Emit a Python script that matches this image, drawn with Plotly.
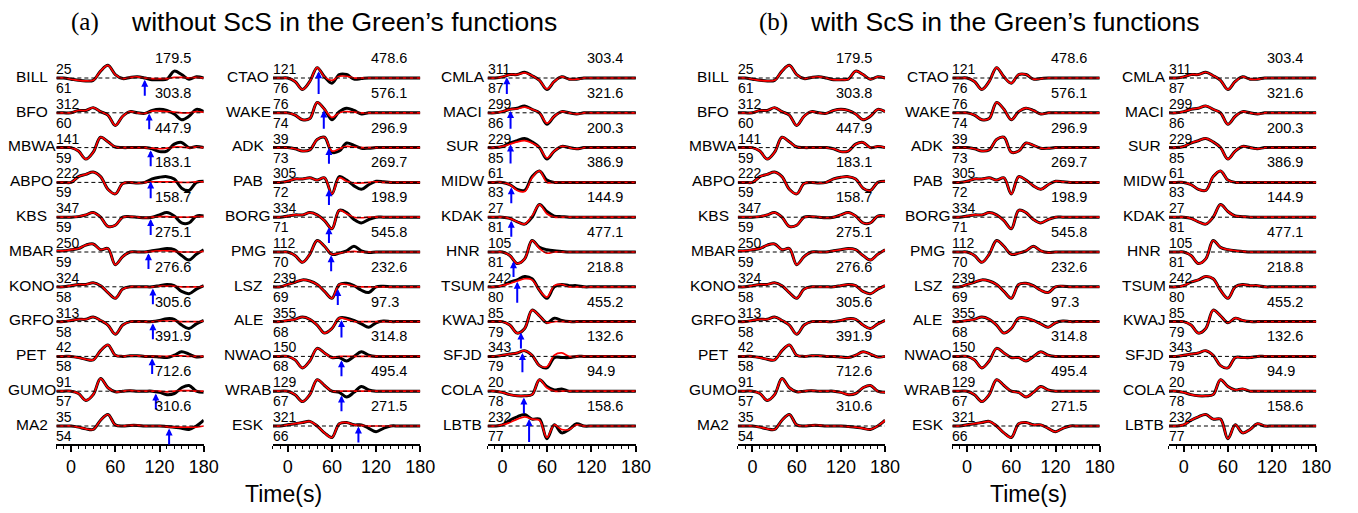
import numpy as np
import plotly.graph_objects as go

# ---------------- data ----------------
T = [-20, -10, 0, 10, 20, 30, 40, 50, 60, 70, 80, 90, 100, 110, 120, 130, 140, 150, 160, 170, 180]

stations_c1 = ["BILL", "BFO", "MBWA", "ABPO", "KBS", "MBAR", "KONO", "GRFO", "PET", "GUMO", "MA2"]
az_c1 = [25, 312, 141, 222, 347, 250, 324, 313, 42, 91, 35]
dist_c1 = [61, 60, 59, 59, 59, 59, 58, 58, 58, 57, 54]
amp_c1 = ["179.5", "303.8", "447.9", "183.1", "158.7", "275.1", "276.6", "305.6", "391.9", "712.6", "310.6"]
scs_c1 = [100, 106, 108, 108, 108, 105, 111, 111, 110, 115, 133]
obs_c1 = [
    [0, 0, -1, -2, -2.5, -2, 6, 11, 3, -0.5, 0.5, 1, 0, -1.5, -1.5, -1, 6, 3, -1, 1, 0],
    [0, 0, 0, 2, 2, 4.5, 1, -2, -11, -3, 1, 0, -0.5, 2, 3, 2, -1, -6, -3, 3, 1],
    [0, 0, 0, -3, -10, -4, 9, 5, 0.5, 0, 0, 0, 0, -1, -3.5, -3, 3, 4.5, 0, 1, 0],
    [0, 0, 0, 5, 7, 9, 5, -6, -10, -1, 0, -0.5, 0, 3, 4.5, 5, 3, -5, -7, 0, 1],
    [0, 0, 0, 0.5, 2, 4, 0, -8, -7, 0, 0.5, 0, -0.5, 0, 2, 4, 1, -5, -5, 1, 1],
    [1, 1, 2, 3, 6, 7, 2, 3, -11, -4, 0, 0, 0, 1, 2, 3, 2, -3, -7, -2, 2],
    [0, 0, 1, 2, 2, 3.5, 1, -5, -10, -2, 0, 0, 0, 0, 1, 2, 1, -4, -6, -2, 1],
    [0, 0, 1, 2, 2, 4, 1, -3, -11, -3, 0, 0, 0, 0, 1, 2.5, 2, -3, -6, -2, 1],
    [0, 0, 0, -1, -2.5, -3, 5, 10, 1, 0, 0.5, 0.5, 0, 0, -0.5, -1, 1, 4, 2, -0.5, 0],
    [0, 0, 0, -2, -8, -3, 11, 3, -0.5, 0, 0.5, 0, 0, 0, -1, -3, -2, 3, 5, 0, -1],
    [0, 0, 0, -1, -2.5, -3, 5, 10, 1, 0, 0.5, 0.5, 0, 0, 0, -0.5, -1, -2, -3, 0, 5],
]
syn_a_c1 = [
    [0, 0, -1, -2, -2.5, -2, 6, 11, 3, -0.5, 0.5, 1, 0, -0.5, -0.5, -0.5, 0.5, 0.5, 0, 0.5, 0],
    [0, 0, 0, 2, 2, 4.5, 1, -2, -11, -3, 1, 0, -0.5, 1.5, 1.5, 1, 0.5, 0, 0, 1, 0.5],
    [0, 0, 0, -3, -10, -4, 9, 5, 0.5, 0, 0, 0, 0, -0.5, -1, -0.5, 0.5, 0.5, 0, 0.5, 0],
    [0, 0, 0, 5, 7, 9, 5, -6, -10, -1, 0, -0.5, 0, 0.5, 0.5, 0.5, 0.5, 0, 0, 0.5, 0.5],
    [0, 0, 0, 0.5, 2, 4, 0, -8, -7, 0, 0.5, 0, -0.5, 0, 0.5, 0.5, 0, 0, 0, 0.5, 0.5],
    [1, 1, 2, 3, 6, 7, 2, 3, -11, -4, 0, 0, 0, 0.5, 1, 1, 0.5, 0, 0, 0, 0.5],
    [0, 0, 1, 2, 2, 3.5, 1, -5, -10, -2, 0, 0, 0, 0, 0.5, 0.5, 0.5, 0, 0, 0, 0.5],
    [0, 0, 1, 2, 2, 4, 1, -3, -11, -3, 0, 0, 0, 0, 0.5, 0.5, 0.5, 0, 0, 0, 0.5],
    [0, 0, 0, -1, -2.5, -3, 5, 10, 1, 0, 0.5, 0.5, 0, 0, 0, 0, 0.5, 0.5, 0, 0, 0],
    [0, 0, 0, -2, -8, -3, 11, 3, -0.5, 0, 0.5, 0, 0, 0, 0, -0.5, 0, 0.5, 0.5, 0, 0],
    [0, 0, 0, -1, -2.5, -3, 5, 10, 1, 0, 0.5, 0.5, 0, 0, 0, -0.5, -1, -1, -1, -1, 0],
]

stations_c2 = ["CTAO", "WAKE", "ADK", "PAB", "BORG", "PMG", "LSZ", "ALE", "NWAO", "WRAB", "ESK"]
az_c2 = [121, 76, 39, 305, 334, 112, 239, 355, 150, 129, 321]
dist_c2 = [76, 74, 73, 72, 71, 70, 69, 68, 68, 67, 66]
amp_c2 = ["478.6", "576.1", "296.9", "269.7", "198.9", "545.8", "232.6", "97.3", "314.8", "495.4", "271.5"]
scs_c2 = [42, 49, 56, 56, 56, 59, 68, 73, 73, 73, 96]
obs_c2 = [
    [0, 0, 0, -3, -10, -3, 9, 1, -4.5, 3, 3, -1, -0.5, 0, 0, 0, 0, 0, 0, 0, 0],
    [0, 0, 0, -2, -6, -5, 9, 3, -6, 1, 4, 2, -1, 0, 0, 0, 0, 0, 0, 0, 0],
    [0, 0, 0, -1, -3, -2, 7, 9, -4, -3, 4, 2, -0.5, -0.5, 0, 0, 0, 0, 0, 0, 0],
    [0, 0, 1, 3, 3, 4, 2, 4, -10, 5, 2, -3, -6, -2, 1, 0.5, 0, 0, 0, 0, 0],
    [0, 0, 1, 2, 2, 4, 2, -3, -10, 6, 4, -2, -5, -2, 0, 0, 0, 0, 0, 0, 0],
    [0, 0, 0, -3, -9, -2, 10, 5, -2, -1, 1, 5, 1, -0.5, 0, 0, 0, 0, 0, 0, 0],
    [0, 0, 2, 4, 6, 5, 2, -4, -10, 2, 3, 1, -3, -5, 0, 0.5, 0, 0, 0, 0, 0],
    [0, 0, 1, 2, 4, 2, -3, -10, -6, 3, 3, 1, -2, -5, -1, 0.5, 0, 0, 0, 0, 0],
    [0, 0, 0, -3, -10, -4, 7, 3, -1, -1, -4, 0, 4, 1, 0, 0, 0, 0, 0, 0, 0],
    [0, 0, 0, -3, -9, -3, 10, 5, 0, -1, -5, -1, 4, 1, 0, 0, 0, 0, 0, 0, 0],
    [0, 0, 1, 2, 3, 4, 0, -6, -10, 2, 3, 1, 1, -2, -5, -2, 0, 0, 0, 0, 0],
]
syn_a_c2 = [
    [0, 0, 0, -3, -10, -3, 9, 1, -2, 1.5, 1.5, 0, 0, 0, 0, 0, 0, 0, 0, 0, 0],
    [0, 0, 0, -2, -6, -5, 9, 3, -4, 0, 1, 0.5, 0, 0, 0, 0, 0, 0, 0, 0, 0],
    [0, 0, 0, -1, -3, -2, 7, 9, -3, -1, 1, 0.5, 0, 0, 0, 0, 0, 0, 0, 0, 0],
    [0, 0, 1, 3, 3, 4, 2, 4, -10, 4, 1, -0.5, -0.5, 0, 0.5, 0, 0, 0, 0, 0, 0],
    [0, 0, 1, 2, 2, 4, 2, -3, -10, 6, 3, 0, -0.5, 0, 0, 0, 0, 0, 0, 0, 0],
    [0, 0, 0, -3, -9, -2, 10, 5, -2, -1, 0, 0.5, 0, 0, 0, 0, 0, 0, 0, 0, 0],
    [0, 0, 2, 4, 6, 5, 2, -4, -10, 2, 2, 0.5, 0, 0, 0, 0, 0, 0, 0, 0, 0],
    [0, 0, 1, 2, 4, 2, -3, -10, -6, 3, 2, 0, 0, 0, 0, 0, 0, 0, 0, 0, 0],
    [0, 0, 0, -3, -10, -4, 7, 3, -1, 0, 0, 0, 0, 0, 0, 0, 0, 0, 0, 0, 0],
    [0, 0, 0, -3, -9, -3, 10, 5, 0, 0, 0, 0, 0, 0, 0, 0, 0, 0, 0, 0, 0],
    [0, 0, 1, 2, 3, 4, 0, -6, -10, 2, 3, 1, 0.5, 0, 0, 0, 0, 0, 0, 0, 0],
]

stations_c3 = ["CMLA", "MACI", "SUR", "MIDW", "KDAK", "HNR", "TSUM", "KWAJ", "SFJD", "COLA", "LBTB"]
az_c3 = [311, 299, 229, 61, 27, 105, 242, 85, 343, 20, 232]
dist_c3 = [87, 86, 85, 83, 81, 81, 80, 79, 79, 78, 77]
amp_c3 = ["303.4", "321.6", "200.3", "386.9", "144.9", "477.1", "218.8", "455.2", "132.6", "94.9", "158.6"]
scs_c3 = [6, 11, 11, 12, 12, 15, 20, 25, 27, 29, 36]
obs_c3 = [
    [0, 0, 1, 3, 3, 5, 2, -2, -10, -3, 1, -1, -1, 0, 0, 0, 0, 0, 0, 0, 0],
    [0, 0, 1, 3, 4, 6, 3, 0, -10, -3, 1, 0, -1, 0, 0, 0, 0, 0, 0, 0, 0],
    [0, 0, 1, 4, 6, 8, 5, 0, -10, -3, 1, 0, -1, 0, 0, 0, 0, 0, 0, 0, 0],
    [0, 0, 0, -2, -6, -7, 5, 10, 2, 0, 0, 0, 0, 0, 0, 0, 0, 0, 0, 0, 0],
    [0, 0, 0, -1, -4, -6, 0, 11, 5, 1, 0.5, 0, 0, 0, 0, 0, 0, 0, 0, 0, 0],
    [0, 0, 0, -3, -10, -6, 10, 4, 2, 1, 0.5, 0, 0, 0, 0, 0, 0, 0, 0, 0, 0],
    [0, 0, 1, 4, 6, 9, 7, -3, -10, 0, 2, 1, 1, 0, 0, 0, 0, 0, 0, 0, 0],
    [0, 0, 0, -3, -10, -6, 10, 5, -1, 3, 1, 0, 0, 0, 0, 0, 0, 0, 0, 0, 0],
    [0, 0, 1, 2, 3, 5, 1, -8, -10, -1, -1, -1, 0, 0, 0, 0, 0, 0, 0, 0, 0],
    [0, 0, -1, -3, -4, -4, -3, 10, 4, 1, 2, 0, 0, 0, 0, 0, 0, 0, 0, 0, 0],
    [0, 0, 1, 5, 8, 10, 6, 6, -11, 1, -6, -3, 2, 0, 0, 0, 0, 0, 0, 0, 0],
]
syn_a_c3 = [
    [0, 0, 1, 3, 3, 4.5, 2, -2, -9.5, -3, 1, -1, -1, 0, 0, 0, 0, 0, 0, 0, 0],
    [0, 0, 1, 3, 3.5, 5, 3, 0, -9, -3, 1, 0, -1, 0, 0, 0, 0, 0, 0, 0, 0],
    [0, 0, 1, 3, 5, 6, 4, 0, -9, -3, 1, 0, -1, 0, 0, 0, 0, 0, 0, 0, 0],
    [0, 0, 0, -2, -7, -8, 4, 10, 0, 0, 0, 0, 0, 0, 0, 0, 0, 0, 0, 0, 0],
    [0, 0, 0, -1, -4, -6, 1, 11, 3, 0, 0, 0, 0, 0, 0, 0, 0, 0, 0, 0, 0],
    [0, 0, 0, -3, -10, -6, 10, 3, -1, 0, 0, 0, 0, 0, 0, 0, 0, 0, 0, 0, 0],
    [0, 0, 1, 3, 5, 7, 6, -3, -9, 1, 2, 0, 0, 0, 0, 0, 0, 0, 0, 0, 0],
    [0, 0, 0, -3, -10, -6, 10, 5, -1, 0, 0, 0, 0, 0, 0, 0, 0, 0, 0, 0, 0],
    [0, 0, 1, 2, 3, 5, 1, -8, -9, 1, 3, 0, 0, 0, 0, 0, 0, 0, 0, 0, 0],
    [0, 0, -1, -3, -4, -4, -3, 10, 3, 0, 0, 0, 0, 0, 0, 0, 0, 0, 0, 0, 0],
    [0, 0, 1, 3, 6, 8, 6, 5, -10, 1, -3, -3, 1, 0, 0, 0, 0, 0, 0, 0, 0],
]

# with ScS in the Green's functions the synthetics overlay the data
syn_b_c1 = obs_c1
syn_b_c2 = obs_c2
syn_b_c3 = obs_c3

titles = [("(a)", "without ScS in the Green\u2019s functions"), ("(b)", "with ScS in the Green\u2019s functions")]
xticks = [0, 60, 120, 180]

# ---------------- layout / style ----------------
W, H = 1358, 513
ROW0_PX, ROW_PX = 78, 34.8          # baseline of first row, row spacing (px)
TOP_PX, AXIS_PX = 50, 444
AMP = 1.15 / ROW_PX                 # amplitude units -> row units
col_px = [(57, 206), (276, 425), (493, 643), (746, 895), (963, 1112), (1182, 1331)]
y_top = (ROW0_PX - TOP_PX) / ROW_PX
y_bot = -(AXIS_PX - ROW0_PX) / ROW_PX
XR = [-20, 180]
FONT = "Arial, Liberation Sans, sans-serif"

columns = [
    (stations_c1, az_c1, dist_c1, amp_c1, scs_c1, obs_c1, syn_a_c1, True),
    (stations_c2, az_c2, dist_c2, amp_c2, scs_c2, obs_c2, syn_a_c2, True),
    (stations_c3, az_c3, dist_c3, amp_c3, scs_c3, obs_c3, syn_a_c3, True),
    (stations_c1, az_c1, dist_c1, amp_c1, scs_c1, obs_c1, syn_b_c1, False),
    (stations_c2, az_c2, dist_c2, amp_c2, scs_c2, obs_c2, syn_b_c2, False),
    (stations_c3, az_c3, dist_c3, amp_c3, scs_c3, obs_c3, syn_b_c3, False),
]

fig = go.Figure()
annotations = []
layout_axes = {}

for k, (sta, az, dist, amp, scs, obs, syn, arrows) in enumerate(columns):
    n = k + 1
    xa = "x" if n == 1 else f"x{n}"
    ya = "y" if n == 1 else f"y{n}"
    x0, x1 = col_px[k]
    for i in range(len(sta)):
        base = -i
        yo = [base + v * AMP for v in obs[i]]
        ys = [base + v * AMP for v in syn[i]]
        fig.add_trace(go.Scatter(x=T, y=yo, mode="lines", xaxis=xa, yaxis=ya,
                                 line=dict(color="black", width=3, shape="spline"),
                                 showlegend=False, hoverinfo="skip"))
        fig.add_trace(go.Scatter(x=T, y=ys, mode="lines", xaxis=xa, yaxis=ya,
                                 line=dict(color="#ff0000", width=1.7, shape="spline"),
                                 showlegend=False, hoverinfo="skip"))
        fig.add_trace(go.Scatter(x=XR, y=[base, base], mode="lines", xaxis=xa, yaxis=ya,
                                 line=dict(color="black", width=1, dash="4px,3px"),
                                 showlegend=False, hoverinfo="skip"))
        # station name (centred ~25 px left of the axis start)
        annotations.append(dict(x=(x0 - 25) / W, y=base + 0.05, xref="paper", yref=ya, text=sta[i],
                                showarrow=False, xanchor="center", yanchor="middle",
                                font=dict(family=FONT, size=15.5, color="black")))
        annotations.append(dict(x=(x0 - 2) / W, y=base + 9 / ROW_PX, xref="paper", yref=ya, text=str(az[i]),
                                showarrow=False, xanchor="left", yanchor="middle",
                                font=dict(family=FONT, size=14, color="black")))
        annotations.append(dict(x=(x0 - 2) / W, y=base - 10 / ROW_PX, xref="paper", yref=ya, text=str(dist[i]),
                                showarrow=False, xanchor="left", yanchor="middle",
                                font=dict(family=FONT, size=14, color="black")))
        annotations.append(dict(x=111, y=base + 20 / ROW_PX, xref=xa, yref=ya, text=amp[i],
                                showarrow=False, xanchor="left", yanchor="middle",
                                font=dict(family=FONT, size=14.5, color="black")))
        if arrows:
            tip = base + float(np.interp(scs[i], T, obs[i])) * AMP - 0.05
            tail = min(tip, base) - 0.5
            annotations.append(dict(x=scs[i], y=tip, ax=scs[i], ay=tail, xref=xa, yref=ya,
                                    axref=xa, ayref=ya, text="", showarrow=True,
                                    arrowhead=2, arrowsize=0.7, arrowwidth=2,
                                    arrowcolor="#0000ff", standoff=0, startstandoff=0))
    layout_axes["xaxis" if n == 1 else f"xaxis{n}"] = dict(
        domain=[x0 / W, x1 / W], range=XR, anchor=ya,
        showgrid=False, zeroline=False, showline=True, linecolor="black", linewidth=1.5,
        ticks="outside", ticklen=6, tickwidth=1.5, tickcolor="black",
        tickvals=xticks, ticktext=[str(v) for v in xticks],
        minor=dict(tickvals=list(range(-20, 181, 10)), ticks="outside", ticklen=3.5,
                   tickwidth=1.2, tickcolor="black", showgrid=False),
        tickfont=dict(family=FONT, size=18, color="black"), fixedrange=True,
    )
    layout_axes["yaxis" if n == 1 else f"yaxis{n}"] = dict(
        domain=[1 - AXIS_PX / H, 1 - TOP_PX / H], range=[y_bot, y_top], anchor=xa,
        visible=False, fixedrange=True,
    )

# panel titles and axis titles
for j, (lab, txt) in enumerate(titles):
    lx = [70, 765][j]
    tx = [130, 817][j]
    annotations.append(dict(x=lx / W, y=1 - 22 / H, xref="paper", yref="paper", text=lab,
                            showarrow=False, xanchor="left", yanchor="middle",
                            font=dict(family="Times New Roman, Liberation Serif, serif", size=25, color="black")))
    annotations.append(dict(x=tx / W, y=1 - 22 / H, xref="paper", yref="paper", text=txt,
                            showarrow=False, xanchor="left", yanchor="middle",
                            font=dict(family=FONT, size=26.5, color="black")))
    cx = [287, 1040][j]
    annotations.append(dict(x=cx / W, y=1 - 494 / H, xref="paper", yref="paper", text="Time(s)",
                            showarrow=False, xanchor="center", yanchor="middle",
                            font=dict(family=FONT, size=23, color="black")))

fig.update_layout(
    width=W, height=H, margin=dict(l=0, r=0, t=0, b=0),
    paper_bgcolor="white", plot_bgcolor="white",
    showlegend=False, annotations=annotations, **layout_axes,
)

fig.write_html("out.html", config={"displayModeBar": False})
